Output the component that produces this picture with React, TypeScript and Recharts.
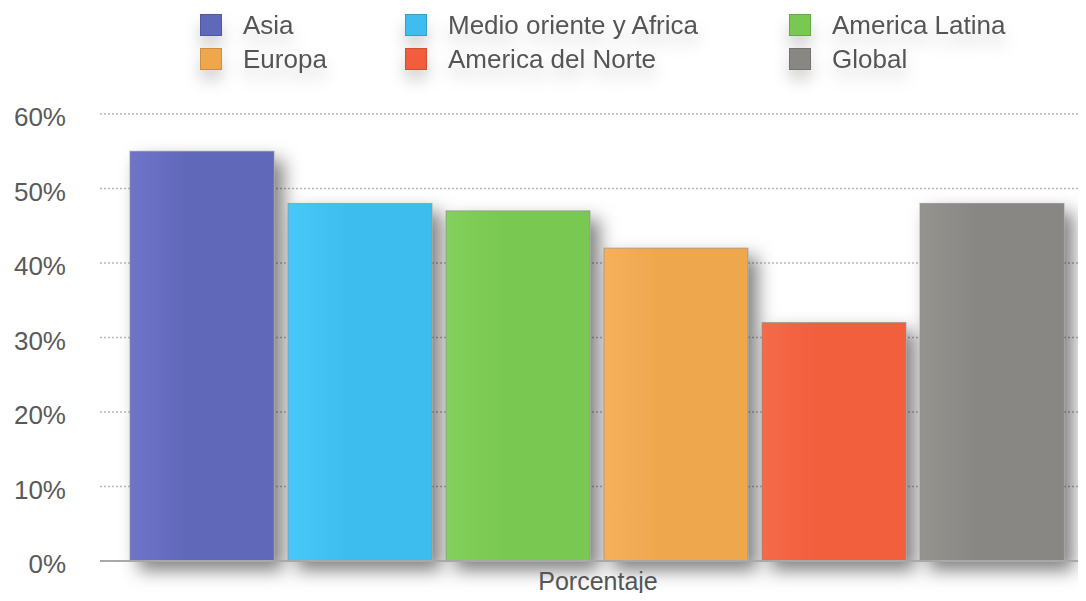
import React from 'react';
import { BarChart, Bar, XAxis, YAxis, CartesianGrid } from 'recharts';

const categories = ['Porcentaje'];
const seriesKeys = ['asia', 'medio', 'latina', 'europa', 'norte', 'global'];
const seriesNames = ['Asia', 'Medio oriente y Africa', 'America Latina', 'Europa', 'America del Norte', 'Global'];
const seriesValues = [55, 48, 47, 42, 32, 48];
const seriesColors = ['#6068b9', '#3ebdee', '#78c851', '#efa74e', '#f15e3e', '#898783'];
const seriesLight = ['#6e74c9', '#48c8f8', '#84d05c', '#f5b05a', '#f56a48', '#95938e'];
const yTicks = [0, 10, 20, 30, 40, 50, 60];

const data = categories.map((name) => {
  const row: Record<string, string | number> = { name };
  seriesKeys.forEach((k, i) => {
    row[k] = seriesValues[i];
  });
  return row;
});

const FONT = '"Liberation Sans", Arial, Helvetica, sans-serif';

const makeShape = (i: number) => (props: any) => {
  const { x, y, width, height } = props;
  return (
    <g filter="url(#barShadow)">
      <rect x={x} y={y} width={width} height={height} fill={`url(#grad${i})`} stroke="#8f8f8f" strokeOpacity={0.7} strokeWidth={1} />
    </g>
  );
};

const legendCols = [
  { sx: 200, tx: 243 },
  { sx: 405, tx: 448 },
  { sx: 789, tx: 832 },
];
const legendRows = [14, 48];

export default function App() {
  return (
    <div style={{ margin: '-8px', width: 1086, height: 601, overflow: 'hidden', position: 'relative', background: '#fff', fontFamily: FONT }}>
      <BarChart
        width={1096}
        height={601}
        data={data}
        margin={{ top: 114, right: 0, bottom: 0, left: 0 }}
        barCategoryGap={30}
        barGap={14}
      >
        <defs>
          <filter id="barShadow" x="-20%" y="-20%" width="150%" height="150%">
            <feDropShadow dx="9" dy="9" stdDeviation="9" floodColor="#000" floodOpacity="0.5" />
          </filter>
          {seriesColors.map((c, i) => (
            <linearGradient key={i} id={`grad${i}`} x1="0" y1="0" x2="1" y2="0">
              <stop offset="0%" stopColor={seriesLight[i]} />
              <stop offset="40%" stopColor={c} />
              <stop offset="100%" stopColor={c} />
            </linearGradient>
          ))}
        </defs>
        <CartesianGrid vertical={false} stroke="#b8b8b8" strokeDasharray="2 2" strokeWidth={1.5} />
        <XAxis
          dataKey="name"
          tickLine={false}
          axisLine={{ stroke: '#a8a8a8', strokeWidth: 2 }}
          tickSize={0}
          tickMargin={11}
          height={40}
          tick={{ fontSize: 25, fill: '#555', fontFamily: FONT }}
        />
        <YAxis
          domain={[0, 60]}
          ticks={yTicks}
          interval={0}
          width={100}
          tickLine={false}
          axisLine={false}
          tickSize={0}
          tickMargin={34}
          tickFormatter={(v: number) => `${v}%`}
          tick={{ fontSize: 26, fill: '#5a5a5a', fontFamily: FONT, dy: 3 }}
        />
        {seriesKeys.map((k, i) => (
          <Bar key={k} dataKey={k} name={seriesNames[i]} fill={seriesColors[i]} isAnimationActive={false} shape={makeShape(i)} />
        ))}
      </BarChart>
      {seriesNames.map((n, i) => {
        const col = legendCols[i % 3];
        const top = legendRows[Math.floor(i / 3)];
        return (
          <div key={n} style={{ position: 'absolute', left: 0, top: 0, filter: 'drop-shadow(0 10px 8px rgba(0,0,0,0.18))' }}>
            <div style={{ position: 'absolute', left: col.sx, top, width: 22, height: 22, background: seriesColors[i], border: '1px solid rgba(0,0,0,0.15)', boxSizing: 'border-box' }} />
            <div style={{ position: 'absolute', left: col.tx, top: top - 5, fontSize: 26, lineHeight: '32px', color: '#555', whiteSpace: 'nowrap' }}>{n}</div>
          </div>
        );
      })}
    </div>
  );
}
